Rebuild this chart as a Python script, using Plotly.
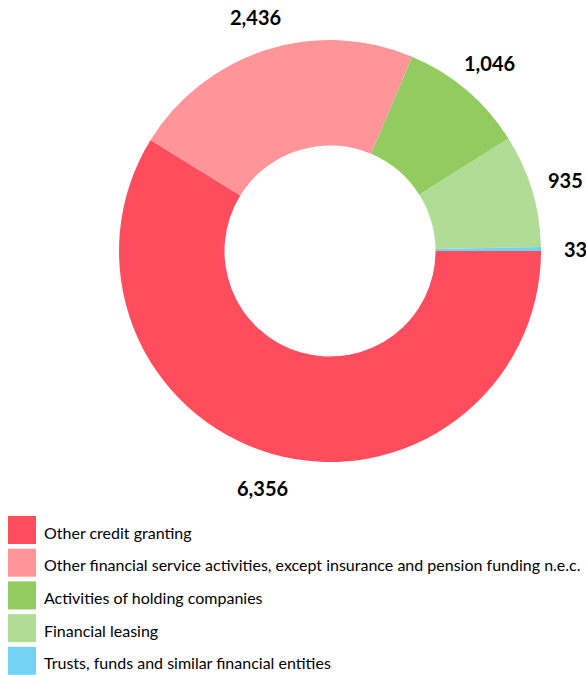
import math
import plotly.graph_objects as go

categories = [
    "Other credit granting",
    "Other financial service activities, except insurance and pension funding n.e.c.",
    "Activities of holding companies",
    "Financial leasing",
    "Trusts, funds and similar financial entities",
]
values = [6356, 2436, 1046, 935, 33]
colors = ["#FF4D5D", "#FF9599", "#92CB5F", "#B1DC96", "#74D3F5"]

W, H = 586, 675
CX, CY, R = 330, 251, 211          # pie centre / radius in pixels
ROT = 90                           # start angle, clockwise from 12 o'clock
LABEL_R = R + 35

fig = go.Figure()
fig.add_trace(go.Pie(
    labels=categories,
    values=values,
    marker=dict(colors=colors, line=dict(width=0)),
    hole=0.5,
    sort=False,
    direction="clockwise",
    rotation=ROT,
    textinfo="none",
    hoverinfo="label+value",
    showlegend=False,
    domain=dict(x=[(CX - R) / W, (CX + R) / W], y=[1 - (CY + R) / H, 1 - (CY - R) / H]),
))

# value labels placed outside each slice at its mid-angle
total = sum(values)
cum = 0
for v in values:
    mid = ROT + 360 * (cum + v / 2) / total
    cum += v
    a = math.radians(mid)
    px = CX + LABEL_R * math.sin(a)
    py = CY - LABEL_R * math.cos(a)
    fig.add_annotation(xref="paper", yref="paper", x=px / W, y=1 - py / H,
                       text=f"{v:,}", showarrow=False, xanchor="center", yanchor="middle",
                       font=dict(family="Lato", size=20, color="black", weight="bold"))

# custom legend with large square swatches
top0 = 516
pitch = 32.7
sw = 28
for i, (cat, col) in enumerate(zip(categories, colors)):
    y0 = top0 + i * pitch
    fig.add_shape(type="rect", xref="paper", yref="paper",
                  x0=8 / W, x1=(8 + sw) / W,
                  y0=1 - (y0 + sw) / H, y1=1 - y0 / H,
                  fillcolor=col, line=dict(width=0))
    fig.add_annotation(xref="paper", yref="paper", x=42 / W, y=1 - (y0 + sw / 2 + 2) / H,
                       text=cat, showarrow=False, xanchor="left", yanchor="middle",
                       font=dict(family="Lato", size=16, color="black"))

fig.update_layout(
    width=W, height=H,
    margin=dict(l=0, r=0, t=0, b=0),
    paper_bgcolor="white",
    plot_bgcolor="white",
)
fig.write_html("out.html", config={"displayModeBar": False},
               post_script="document.body.style.margin='0';document.body.style.overflow='hidden';")
